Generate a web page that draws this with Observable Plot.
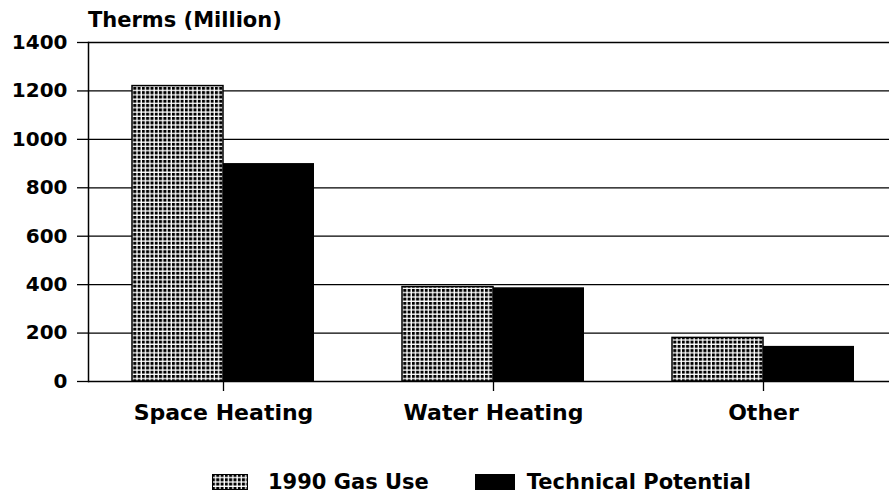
<!DOCTYPE html>
<html>
<head>
<meta charset="utf-8">
<script src="https://cdn.jsdelivr.net/npm/d3@7"></script>
<script src="https://cdn.jsdelivr.net/npm/@observablehq/plot@0.6"></script>
<style>
  body { margin: 0; background: #fff; font-family: "DejaVu Sans", sans-serif; }
  #title { font-weight: bold; font-size: 21px; line-height: 1; height: 21px; padding-top: 10px; padding-left: 88px; color: #000; }
  #legend { display: flex; align-items: center; margin-top: 20px; padding-left: 212px; font-weight: bold; font-size: 21px; color: #000; }
  #legend .item { display: flex; align-items: center; }
  #legend svg { display: block; }
</style>
</head>
<body>
<div id="title">Therms (Million)</div>
<div id="chart"></div>
<div id="legend"></div>
<script>
const categories = ["Space Heating", "Water Heating", "Other"];
const seriesNames = ["1990 Gas Use", "Technical Potential"];
const gasUse = [1220, 390, 180];
const technical = [900, 387, 145];
const yTicks = [0, 200, 400, 600, 800, 1000, 1200, 1400];

const rows = categories.flatMap((c, i) => [
  {cat: c, series: seriesNames[0], value: gasUse[i]},
  {cat: c, series: seriesNames[1], value: technical[i]}
]);

const chart = Plot.plot({
  width: 889,
  height: 419,
  marginLeft: 88,
  marginRight: -9,
  marginTop: 11,
  marginBottom: 69,
  style: {fontFamily: "DejaVu Sans", fontWeight: "bold", color: "black", background: "white"},
  fx: {domain: categories, paddingInner: 0, paddingOuter: 0, label: null},
  x: {domain: seriesNames, paddingInner: 0, paddingOuter: 0.4835, axis: null},
  y: {domain: [0, 1400]},
  marks: [
    Plot.ruleY(yTicks, {stroke: "black", strokeWidth: 1.3}),
    Plot.barY(rows.filter(d => d.series === seriesNames[0]), {fx: "cat", x: "series", y: "value", fill: "url(#dots)", stroke: "black", strokeWidth: 1.5}),
    Plot.barY(rows.filter(d => d.series === seriesNames[1]), {fx: "cat", x: "series", y: "value", fill: "black"}),
    Plot.axisY({ticks: yTicks, tickFormat: d => String(d), tickSize: 11, tickPadding: 10, fontSize: 20, fontWeight: "bold", label: null, stroke: "black", strokeWidth: 1.3, strokeOpacity: 1}),
    Plot.frame({anchor: "left", facetAnchor: "left", stroke: "black", strokeWidth: 1.5}),
    Plot.axisFx({anchor: "bottom", tickSize: 10, tickPadding: 13, fontSize: 22, fontWeight: "bold", label: null, stroke: "black", strokeWidth: 1.3, strokeOpacity: 1})
  ]
});

function addPattern(svgEl) {
  const defs = d3.select(svgEl).insert("defs", ":first-child");
  const p = defs.append("pattern")
    .attr("id", "dots")
    .attr("width", 4.3).attr("height", 4.3)
    .attr("patternUnits", "userSpaceOnUse");
  p.append("rect").attr("width", 4.3).attr("height", 4.3).attr("fill", "white");
  p.append("rect").attr("width", 3).attr("height", 3).attr("fill", "black");
}

document.getElementById("chart").appendChild(chart);
const svgRoot = chart.tagName.toLowerCase() === "svg" ? chart : chart.querySelector("svg");
addPattern(svgRoot);

// Legend
const legend = d3.select("#legend");
const fills = ["url(#dots)", "black"];
seriesNames.forEach((name, i) => {
  const item = legend.append("div").attr("class", "item").style("margin-right", i === 0 ? "46px" : "0px");
  const sw = item.append("svg").attr("width", i === 0 ? 36 : 40).attr("height", 16);
  sw.append("rect").attr("x", 0.5).attr("y", 0.5)
    .attr("width", (i === 0 ? 36 : 40) - 1).attr("height", 15)
    .attr("fill", fills[i]).attr("stroke", "black").attr("stroke-width", 1);
  item.append("span").style("margin-left", i === 0 ? "20px" : "12px").text(name);
});
</script>
</body>
</html>
